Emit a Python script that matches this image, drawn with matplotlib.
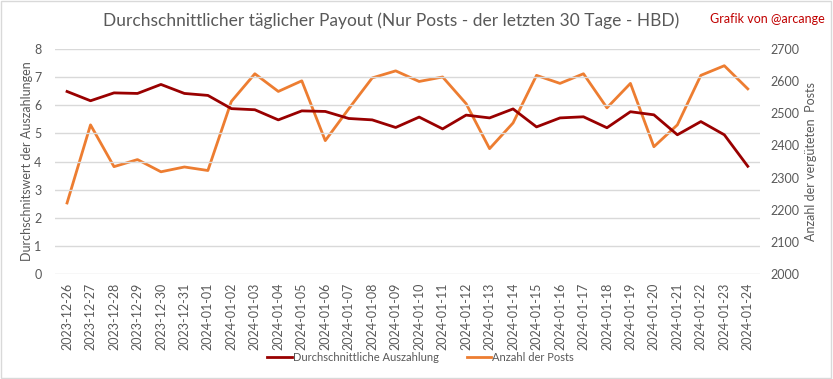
import matplotlib.pyplot as plt
from matplotlib.patches import Rectangle

DATES = ['2023-12-26', '2023-12-27', '2023-12-28', '2023-12-29', '2023-12-30',
         '2023-12-31', '2024-01-01', '2024-01-02', '2024-01-03', '2024-01-04',
         '2024-01-05', '2024-01-06', '2024-01-07', '2024-01-08', '2024-01-09',
         '2024-01-10', '2024-01-11', '2024-01-12', '2024-01-13', '2024-01-14',
         '2024-01-15', '2024-01-16', '2024-01-17', '2024-01-18', '2024-01-19',
         '2024-01-20', '2024-01-21', '2024-01-22', '2024-01-23', '2024-01-24']
PAYOUT = [6.49, 6.16, 6.44, 6.42, 6.74, 6.42, 6.35, 5.88, 5.84, 5.48,
          5.80, 5.78, 5.53, 5.48, 5.21, 5.58, 5.16, 5.65, 5.55, 5.87,
          5.23, 5.55, 5.59, 5.20, 5.77, 5.66, 4.95, 5.42, 4.95, 3.83]
POSTS = [2221, 2464, 2334, 2356, 2318, 2333, 2322, 2537, 2623, 2568,
         2601, 2415, 2514, 2610, 2632, 2599, 2613, 2530, 2390, 2470,
         2618, 2593, 2623, 2517, 2593, 2396, 2464, 2618, 2648, 2576]

DARK_RED = '#990000'
ORANGE = '#ed7d31'
TEXT = '#595959'
GRID = '#d9d9d9'

plt.rcParams['font.family'] = ['Lato', 'DejaVu Sans']

fig = plt.figure(figsize=(8.33, 3.79), dpi=100)
fig.patch.set_facecolor('white')
fig.patches.append(Rectangle((0.001, 0.002), 0.997, 0.995, transform=fig.transFigure,
                             fill=False, edgecolor=GRID, linewidth=1))

ax = fig.add_axes([0.0664, 0.277, 0.8454, 0.5937])
ax2 = ax.twinx()

x = list(range(len(DATES)))
ax.plot(x, PAYOUT, color=DARK_RED, linewidth=2, zorder=3,
        label='Durchschnittliche Auszahlung')
ax2.plot(x, POSTS, color=ORANGE, linewidth=2, zorder=2, label='Anzahl der Posts')

ax.set_xlim(-0.5, len(DATES) - 0.5)
ax.set_ylim(0, 8)
ax2.set_ylim(2000, 2700)
ax.set_yticks(range(0, 9))
ax2.set_yticks(range(2000, 2701, 100))
ax.grid(axis='y', color=GRID, linewidth=1)
ax.set_axisbelow(True)

ax.set_xticks(x)
ax.set_xticklabels(DATES, rotation=90, fontsize=8.5, color=TEXT)
for a in (ax, ax2):
    for s in a.spines.values():
        s.set_visible(False)
    a.tick_params(length=0, labelsize=9, labelcolor=TEXT)
ax.tick_params(axis='y', pad=10)
ax2.tick_params(axis='y', pad=8)
ax.tick_params(axis='x', pad=6)

ax.set_ylabel('Durchschnitswert der Auszahlungen', fontsize=9, color=TEXT, labelpad=1)
ax2.set_ylabel('Anzahl der vergüteten  Posts', fontsize=9, color=TEXT, labelpad=4)

# dark red line drawn on top of the orange one
ax.set_zorder(ax2.get_zorder() + 1)
ax.patch.set_visible(False)

fig.text(0.47, 0.945, 'Durchschnittlicher täglicher Payout (Nur Posts - der letzten 30 Tage - HBD)',
         ha='center', va='center', fontsize=12.5, color=TEXT)
fig.text(0.99, 0.95, 'Grafik von @arcange', ha='right', va='center',
         fontsize=9, color='#c00000')

h1, l1 = ax.get_legend_handles_labels()
h2, l2 = ax2.get_legend_handles_labels()
fig.legend(h1 + h2, l1 + l2, loc='center', bbox_to_anchor=(0.505, 0.058), ncol=2,
           frameon=False, fontsize=8, labelcolor=TEXT, handlelength=2.2,
           handletextpad=0.1, columnspacing=2.5)

fig.savefig('out.png', dpi=100)
